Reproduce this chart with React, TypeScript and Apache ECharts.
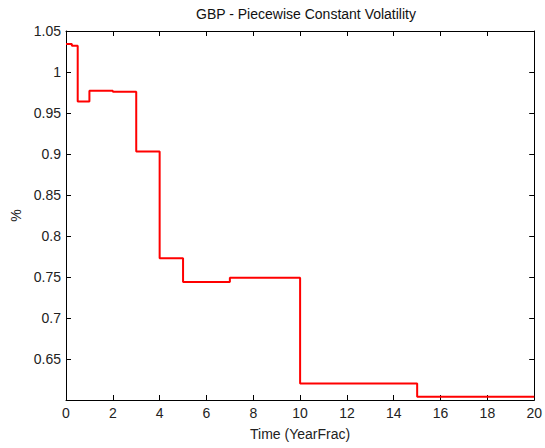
import React, { useEffect, useRef } from "react";
import * as echarts from "echarts";

const stepStarts: number[] = [0, 0.25, 0.5, 1, 2, 3, 4, 5, 7, 10, 15, 20];
const volatility: number[] = [1.034, 1.032, 0.964, 0.977, 0.976, 0.903, 0.773, 0.744, 0.749, 0.62, 0.604, 0.604];
const xTicks = { min: 0, max: 20, interval: 2 };
const yTicks = { min: 0.6, max: 1.05, interval: 0.05 };

const FONT = "'Liberation Sans', Arial, sans-serif";

export default function App() {
  const ref = useRef<HTMLDivElement>(null);
  useEffect(() => {
    if (!ref.current) return;
    const chart = echarts.init(ref.current, null, { renderer: "svg" });
    const axisLine = { show: true, onZero: false, lineStyle: { color: "#000", width: 1 } };
    const axisTick = { show: true, inside: true, length: 5, lineStyle: { color: "#000", width: 1 } };
    const labelStyle = { color: "#222", fontSize: 14, fontFamily: FONT };
    chart.setOption({
      animation: false,
      backgroundColor: "#fff",
      title: {
        text: "GBP - Piecewise Constant Volatility",
        left: 301,
        textAlign: "center",
        top: 2,
        textStyle: { color: "#111", fontSize: 14, fontWeight: "normal", fontFamily: FONT },
      },
      grid: { left: 66, right: 9, top: 31, bottom: 48, containLabel: false },
      xAxis: [
        {
          type: "value",
          min: xTicks.min,
          max: xTicks.max,
          interval: xTicks.interval,
          position: "bottom",
          name: "Time (YearFrac)",
          nameLocation: "middle",
          nameGap: 27,
          nameTextStyle: { color: "#222", fontSize: 14, fontFamily: FONT },
          axisLine,
          axisTick,
          axisLabel: { ...labelStyle, margin: 6 },
          splitLine: { show: false },
        },
        {
          type: "value",
          min: xTicks.min,
          max: xTicks.max,
          interval: xTicks.interval,
          position: "top",
          axisLine,
          axisTick,
          axisLabel: { show: false },
          splitLine: { show: false },
        },
      ],
      yAxis: [
        {
          type: "value",
          min: yTicks.min,
          max: yTicks.max,
          interval: yTicks.interval,
          position: "left",
          name: "%",
          nameLocation: "middle",
          nameGap: 40,
          nameTextStyle: { color: "#222", fontSize: 14, fontFamily: FONT },
          axisLine,
          axisTick,
          axisLabel: {
            ...labelStyle,
            margin: 5,
            formatter: (v: number) => (v < yTicks.min + 1e-6 ? "" : String(+v.toFixed(2))),
          },
          splitLine: { show: false },
        },
        {
          type: "value",
          min: yTicks.min,
          max: yTicks.max,
          interval: yTicks.interval,
          position: "right",
          axisLine,
          axisTick,
          axisLabel: { show: false },
          splitLine: { show: false },
        },
      ],
      series: [
        {
          type: "line",
          step: "end",
          xAxisIndex: 0,
          yAxisIndex: 0,
          data: stepStarts.map((x, i) => [x, volatility[i]]),
          showSymbol: false,
          lineStyle: { color: "#ff0000", width: 2 },
          itemStyle: { color: "#ff0000" },
        },
      ],
    });
    return () => chart.dispose();
  }, []);
  return (
    <div
      ref={ref}
      style={{ position: "fixed", left: 0, top: 0, width: 545, height: 448, background: "#fff" }}
    />
  );
}
